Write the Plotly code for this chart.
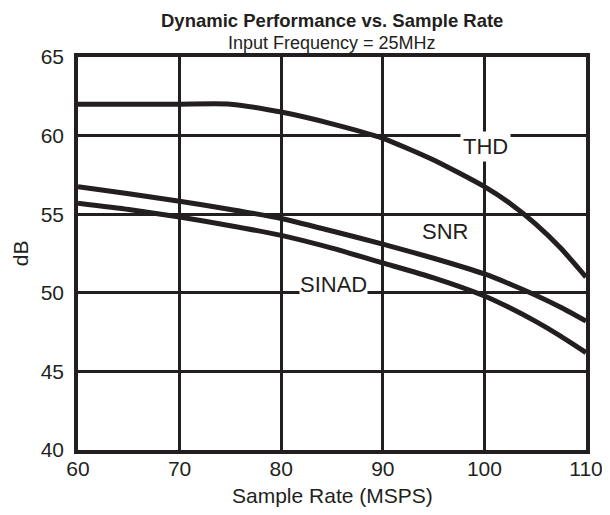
import plotly.graph_objects as go

x_rate = [60, 65, 70, 75, 80, 85, 90, 95, 100, 102.5, 105, 107.5, 110]
thd = [62.0, 62.0, 62.0, 62.0, 61.5, 60.75, 59.83, 58.45, 56.75, 55.7, 54.4, 52.85, 51.0]
snr = [56.75, 56.3, 55.82, 55.3, 54.73, 53.93, 53.1, 52.2, 51.2, 50.56, 49.86, 49.08, 48.2]
sinad = [55.7, 55.3, 54.82, 54.27, 53.65, 52.84, 51.9, 50.95, 49.8, 49.05, 48.2, 47.25, 46.2]

x_ticks = [60, 70, 80, 90, 100, 110]
y_ticks = [40, 45, 50, 55, 60, 65]

FONT = "Liberation Sans, Arial, sans-serif"
INK = "#231f20"

fig = go.Figure()
for name, ys in [("THD", thd), ("SNR", snr), ("SINAD", sinad)]:
    fig.add_trace(go.Scatter(x=x_rate, y=ys, mode="lines", name=name,
                             line=dict(color=INK, width=5, shape="spline", smoothing=0.6),
                             showlegend=False, cliponaxis=False))

lab_font = dict(family=FONT, size=22, color=INK)
fig.add_annotation(x=100.1, y=59.3, text="THD", showarrow=False, bgcolor="white",
                   font=lab_font, borderpad=2)
fig.add_annotation(x=96.1, y=53.87, text="SNR", showarrow=False, font=lab_font)
fig.add_annotation(x=85.1, y=50.56, text="SINAD", showarrow=False, bgcolor="white",
                   font=lab_font, borderpad=0)

def paper_text(x, y, text, size, angle=0):
    fig.add_annotation(xref="paper", yref="paper", x=x, y=y, xanchor="center", yanchor="middle",
                       text=text, textangle=angle, showarrow=False,
                       font=dict(family=FONT, size=size, color=INK))

paper_text(0.5, 1.0941, "<b>Dynamic Performance vs. Sample Rate</b>", 18.5)
paper_text(0.5, 1.0346, "Input Frequency = 25MHz", 18)
paper_text(0.5, -0.117, "Sample Rate (MSPS)", 21)
paper_text(-0.114, 0.501, "dB", 21, -90)

fig.update_layout(
    width=602, height=507,
    margin=dict(l=70, r=24, t=49, b=65),
    paper_bgcolor="white", plot_bgcolor="white",
    font=dict(family=FONT, color=INK),
)
fig.update_xaxes(range=[60, 110], tickvals=x_ticks, showgrid=True, gridcolor=INK, gridwidth=2.5,
                 showline=True, linecolor=INK, linewidth=3.5, mirror=True, zeroline=False,
                 ticks="", automargin=False, ticklabelstandoff=-3,
                 tickfont=dict(family=FONT, size=21, color=INK))
fig.update_yaxes(range=[40, 65], tickvals=y_ticks, showgrid=True, gridcolor=INK, gridwidth=2.5,
                 showline=True, linecolor=INK, linewidth=3.5, mirror=True, zeroline=False,
                 ticks="", automargin=False, ticklabelstandoff=6,
                 tickfont=dict(family=FONT, size=21, color=INK))

fig.write_html("out.html")
